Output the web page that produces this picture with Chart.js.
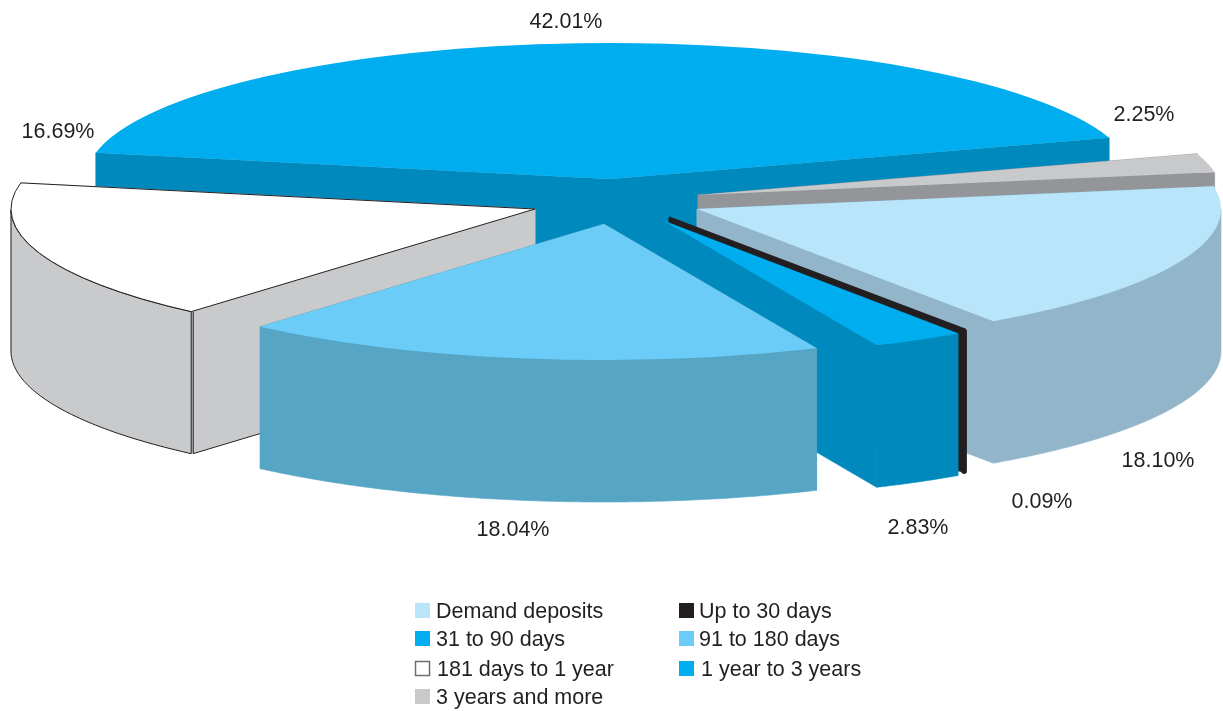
<!DOCTYPE html>
<html>
<head>
<meta charset="utf-8">
<style>html,body{margin:0;padding:0;background:#fff}canvas{display:block}</style>
<script src="https://cdn.jsdelivr.net/npm/chart.js@4"></script>
</head>
<body>
<canvas id="c" width="1223" height="711"></canvas>
<script>
const categories = ['Demand deposits','Up to 30 days','31 to 90 days','91 to 180 days','181 days to 1 year','1 year to 3 years','3 years and more'];
const shares = [18.10,0.09,2.83,18.04,16.69,42.01,2.25];
const topColors = ['#b8e5fa','#231f20','#00adef','#6bcdf7','#ffffff','#00adef','#c8c9cb'];
const sideColors = ['#92b5c9','#231f20','#0089bd','#57a5c5','#c8cacc','#0089bd','#939598'];

const view = {
  rx: 524, ry: 136, depth: 142,
  drawOrder: [5,6,4,0,1,2,3],
  apex: [[697,209],[669,218],[664,221],[604,224],[535,209],[610,179],[698,195]],
  labelPos: [[1158,461],[1042,502],[918,528],[513,530],[58,132],[566,22],[1144,115]],
  legendRows: [[0,415,436,611],[1,679,699,611],[2,415,436,639],[3,679,699,639],[4,415,437,669],[5,679,701,669],[6,415,436,697]]
};
const ink = '#231f20';

const pie3d = {
  id: 'pie3d',
  beforeDatasetsDraw(chart) {
    const ctx = chart.ctx;
    const arcs = chart.getDatasetMeta(0).data;
    view.drawOrder.forEach(i => drawSlice(ctx, arcs[i], i));
    return false;
  },
  afterDraw(chart) {
    const ctx = chart.ctx;
    ctx.save();
    ctx.fillStyle = ink;
    ctx.textBaseline = 'middle';
    ctx.font = '21.5px "Liberation Sans"';
    ctx.textAlign = 'center';
    shares.forEach((v, i) => ctx.fillText(v.toFixed(2) + '%', view.labelPos[i][0], view.labelPos[i][1]));
    ctx.textAlign = 'left';
    view.legendRows.forEach(([i, bx, tx, y]) => {
      ctx.fillStyle = topColors[i];
      ctx.fillRect(bx, y - 8, 15, 15);
      if (topColors[i] === '#ffffff') {
        ctx.strokeStyle = '#6d6e71'; ctx.lineWidth = 1.5;
        ctx.strokeRect(bx + .5, y - 7.5, 14, 14);
      }
      ctx.fillStyle = ink;
      ctx.fillText(categories[i], tx, y + 1);
    });
    ctx.restore();
  }
};

function drawSlice(ctx, arc, i) {
  const [ax, ay] = view.apex[i];
  const {rx, ry, depth} = view;
  const s = arc.startAngle, e = arc.endAngle;
  const pt = (a, d) => [ax + rx * Math.cos(a), ay + ry * Math.sin(a) + d];
  const poly = pts => { ctx.beginPath(); pts.forEach((p, k) => k ? ctx.lineTo(p[0], p[1]) : ctx.moveTo(p[0], p[1])); ctx.closePath(); };
  const outlined = i === 4;
  const thick = i === 1;
  ctx.save();
  ctx.lineJoin = 'bevel';
  ctx.fillStyle = sideColors[i];
  ctx.strokeStyle = sideColors[i];
  ctx.lineWidth = 0.6;
  // radial faces
  const faces = [s, e].map(a => [[ax, ay], pt(a, 0), pt(a, depth), [ax, ay + depth]]);
  faces.forEach(f => { poly(f); ctx.fill(); ctx.stroke(); });
  // outer wall, only the part facing the viewer
  const top = [];
  const n = Math.max(2, Math.ceil((e - s) / 0.01));
  for (let k = 0; k <= n; k++) {
    const a = s + (e - s) * k / n;
    if (Math.sin(a) >= -1e-6) top.push(a);
  }
  let wall = null;
  if (top.length > 1) {
    wall = top.map(a => pt(a, 0)).concat(top.slice().reverse().map(a => pt(a, depth)));
    poly(wall); ctx.fill(); ctx.stroke();
  }
  if (thick) {
    ctx.lineWidth = 3;
    poly(wall); ctx.stroke();
  }
  if (outlined) {
    ctx.strokeStyle = ink; ctx.lineWidth = 1;
    poly(wall); ctx.stroke();
    const p = pt(s, 0);
    ctx.beginPath(); ctx.moveTo(p[0] + 2, p[1]); ctx.lineTo(p[0] + 2, p[1] + depth);
    ctx.lineTo(ax, ay + depth); ctx.stroke();
  }
  ctx.restore();
  // top surface: the library's own arc, flattened
  const R = arc.outerRadius;
  ctx.save();
  ctx.translate(ax, ay);
  ctx.scale(rx / R, ry / R);
  ctx.translate(-arc.x, -arc.y);
  arc.draw(ctx);
  ctx.beginPath();
  ctx.moveTo(arc.x, arc.y);
  ctx.arc(arc.x, arc.y, R, s, e);
  ctx.closePath();
  ctx.restore();
  if (outlined || thick) {
    ctx.save();
    ctx.lineJoin = 'bevel';
    ctx.strokeStyle = ink;
    ctx.lineWidth = thick ? 3 : 1;
    ctx.stroke();
    ctx.restore();
  }
}

new Chart(document.getElementById('c'), {
  type: 'pie',
  data: {
    labels: categories,
    datasets: [{ data: shares, backgroundColor: topColors, borderWidth: 0 }]
  },
  options: {
    responsive: false,
    animation: false,
    devicePixelRatio: 1,
    events: [],
    rotation: 80.4,
    layout: { padding: 0 },
    plugins: { legend: { display: false }, tooltip: { enabled: false } }
  },
  plugins: [pie3d]
});
</script>
</body>
</html>
